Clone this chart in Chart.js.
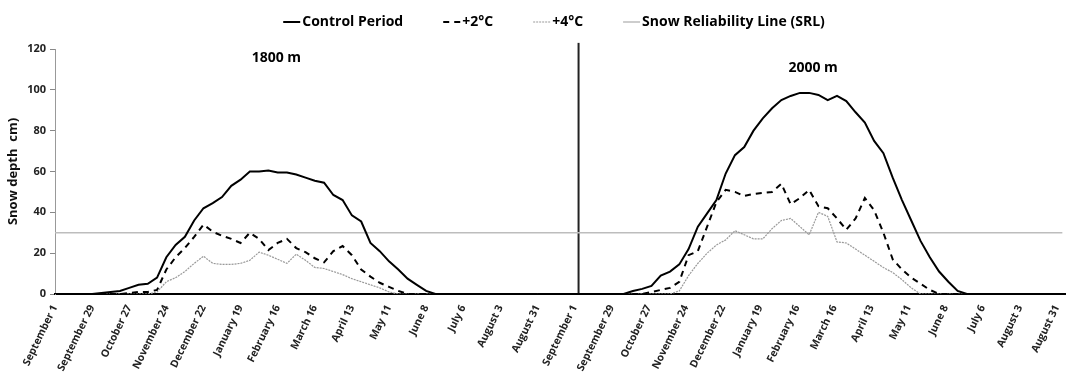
<!doctype html>
<html lang="en">
<head>
<meta charset="utf-8">
<title>Snow depth - control vs warming</title>
<script src="https://cdn.jsdelivr.net/npm/chart.js@4.4.0/dist/chart.umd.min.js"></script>
<style>
  html, body { margin: 0; padding: 0; background: #fff; overflow: hidden; }
  #wrap { position: relative; width: 1070px; height: 376px; }
</style>
</head>
<body>
<div id="wrap"><canvas id="snowChart"></canvas></div>
<script>
// x ticks every 28 days, one season per panel
const seasonTicks = ['September 1', 'September 29', 'October 27', 'November 24', 'December 22',
  'January 19', 'February 16', 'March 16', 'April 13', 'May 11', 'June 8', 'July 6',
  'August 3', 'August 31'];
const tickLabels = seasonTicks.concat(seasonTicks);

// sample days (days after September 1), weekly
const weekDays = [0, 7, 14, 21, 28, 35, 42, 49, 56, 63, 70, 77, 84, 91, 98, 105, 112, 119, 126,
  133, 140, 147, 154, 161, 168, 175, 182, 189, 196, 203, 210, 217, 224, 231, 238, 245, 252,
  259, 266, 273, 280, 287, 294, 301, 308, 315, 322, 329, 336, 343, 350, 357, 364];

// 1800 m, snow depth (cm)
const ctl1800 = [0, 0, 0, 0, 0, 0.5, 1, 1.5, 3, 4.5, 5, 8, 18, 24, 28, 36, 42, 44.5, 47.5, 53, 56,
  60, 60, 60.5, 59.5, 59.5, 58.5, 57, 55.5, 54.5, 48.5, 46, 38.5, 35.5, 25, 21, 16, 12, 7.5, 4.5,
  1.5, 0, 0, 0, 0, 0, 0, 0, 0, 0, 0, 0, 0];
const plus2_1800 = [0, 0, 0, 0, 0, 0, 0, 0, 0.5, 1, 1, 2, 12, 18, 22.5, 28, 34, 30.5, 28.5, 27, 25,
  30, 27, 21.5, 25, 27, 22.5, 20.5, 17.5, 15.5, 21, 23.5, 19, 12, 8.5, 5.5, 3.5, 1.5, 0, 0, 0, 0,
  0, 0, 0, 0, 0, 0, 0, 0, 0, 0, 0];
const plus4_1800 = [0, 0, 0, 0, 0, 0, 0, 0, 0, 0, 0, 1, 6, 8, 11, 15, 18.5, 15, 14.5, 14.5, 15,
  16.5, 20.5, 19, 17, 15, 19.5, 16.5, 13, 12.5, 11, 9.5, 7.5, 6, 4.5, 3, 1, 0, 0, 0, 0, 0, 0, 0,
  0, 0, 0, 0, 0, 0, 0, 0, 0];

// 2000 m, snow depth (cm)
const ctl2000 = [0, 0, 0, 0, 0, 0, 1.5, 2.5, 4, 9, 11, 14.5, 22, 33, 39.5, 46, 59, 68, 72, 80, 86,
  91, 95, 97, 98.5, 98.5, 97.5, 95, 97, 94.5, 89, 84, 75, 69, 57, 46, 36, 26, 18, 11, 6, 1.5, 0,
  0, 0, 0, 0, 0, 0, 0, 0, 0, 0];
const plus2_2000 = [0, 0, 0, 0, 0, 0, 0, 0, 1, 2, 3, 6, 19, 21, 33, 45, 51, 50, 48, 49, 49.5, 50,
  54, 44, 47, 51, 43, 42, 37, 31.5, 37, 47, 41, 30, 17, 12, 8, 5, 2, 0, 0, 0, 0, 0, 0, 0, 0, 0, 0,
  0, 0, 0, 0];
const plus4_2000 = [0, 0, 0, 0, 0, 0, 0, 0, 0, 0, 0, 1.5, 9, 15, 20, 24, 26.5, 31, 29, 27, 27, 32,
  36, 37, 33, 29, 40, 38, 25.5, 25, 22, 19, 16, 13, 10.5, 7, 3, 0, 0, 0, 0, 0, 0, 0, 0, 0, 0, 0,
  0, 0, 0, 0, 0];

const srlDepth = 30;
const panel2Start = 394;   // second season starts here on the shared day axis
const dividerDay = 395;
const axisEnd = 762;

const panelTitles = [
  { text: '1800 m', day: 167, depth: 115.5 },
  { text: '2000 m', day: panel2Start + 178, depth: 110.5 }
];

function bothPanels(vals1800, vals2000) {
  const a = weekDays.map((d, i) => ({ x: d, y: vals1800[i] }));
  const b = weekDays.map((d, i) => ({ x: d + panel2Start, y: vals2000[i] }));
  return a.concat([{ x: (364 + panel2Start) / 2, y: null }], b);
}

Chart.defaults.font.family = "'Open Sans', sans-serif";
Chart.defaults.color = '#222';

// legend row drawn by hand so the spacing matches
const keyRow = {
  id: 'keyRow',
  afterDraw(chart) {
    const ctx = chart.ctx;
    const items = chart.data.datasets.filter(ds => ds.label);
    ctx.save();
    ctx.font = "bold 14px 'Open Sans'";
    const mark = 17, gapText = 2, gapItem = 40;
    const widths = items.map(ds => mark + gapText + ctx.measureText(ds.label).width);
    const total = widths.reduce((a, b) => a + b, 0) + gapItem * (items.length - 1);
    let x = 554 - total / 2;
    const y = 22;
    items.forEach((ds, i) => {
      ctx.beginPath();
      ctx.strokeStyle = ds.borderColor;
      ctx.lineWidth = ds.borderWidth;
      ctx.setLineDash(ds.borderDash || []);
      ctx.moveTo(x, y);
      ctx.lineTo(x + mark, y);
      ctx.stroke();
      ctx.setLineDash([]);
      ctx.fillStyle = '#000';
      ctx.textBaseline = 'middle';
      ctx.fillText(ds.label, x + mark + gapText, y);
      x += widths[i] + gapItem;
    });
    ctx.restore();
  }
};

const panelLabels = {
  id: 'panelLabels',
  afterDatasetsDraw(chart) {
    const { ctx, scales: { x, y } } = chart;
    ctx.save();
    ctx.font = "bold 14px 'Open Sans'";
    ctx.fillStyle = '#000';
    ctx.textAlign = 'center';
    ctx.textBaseline = 'middle';
    panelTitles.forEach(p => ctx.fillText(p.text, x.getPixelForValue(p.day), y.getPixelForValue(p.depth)));
    ctx.restore();
  }
};

const CHART = document.getElementById('snowChart');
new Chart(CHART, {
  type: 'line',
  data: {
    datasets: [
      { label: 'Control Period', data: bothPanels(ctl1800, ctl2000),
        borderColor: '#000', borderWidth: 2 },
      { label: '+2°C', data: bothPanels(plus2_1800, plus2_2000),
        borderColor: '#000', borderWidth: 2, borderDash: [6, 5] },
      { label: '+4°C', data: bothPanels(plus4_1800, plus4_2000),
        borderColor: '#999', borderWidth: 1.2, borderDash: [2, 1] },
      { label: 'Snow Reliability Line (SRL)', data: [{ x: 0, y: srlDepth }, { x: axisEnd - 2, y: srlDepth }],
        borderColor: '#bdbdbd', borderWidth: 1.5 },
      { label: '', data: [{ x: dividerDay, y: 0 }, { x: dividerDay, y: 123 }],
        borderColor: '#222', borderWidth: 2, clip: false }
    ]
  },
  options: {
    responsive: true,
    maintainAspectRatio: false,
    animation: false,
    elements: { point: { radius: 0 }, line: { tension: 0, fill: false } },
    layout: { padding: { top: 49, right: 5, bottom: 0, left: 0 } },
    plugins: { legend: { display: false }, tooltip: { enabled: false } },
    scales: {
      x: {
        type: 'linear',
        min: 0,
        max: axisEnd,
        z: 1,
        afterBuildTicks: s => { s.ticks = tickLabels.map((_, i) => ({ value: i * 28 })); },
        afterFit: s => { s.height = 82; },
        grid: { display: false },
        border: { color: '#000', width: 2 },
        ticks: {
          autoSkip: false,
          minRotation: 64,
          maxRotation: 64,
          padding: 1,
          font: { size: 10.5, weight: 'bold' },
          color: '#222',
          callback: v => tickLabels[Math.round(v / 28)]
        }
      },
      y: {
        min: 0,
        max: 120,
        afterFit: s => { s.width = 55; },
        grid: { drawOnChartArea: false, tickLength: 5, color: '#888' },
        border: { color: '#999', width: 1 },
        ticks: { stepSize: 20, padding: 4, font: { size: 11, weight: 'bold' }, color: '#222' },
        title: { display: true, text: 'Snow depth  cm)', font: { size: 13, weight: 'bold' }, color: '#111', padding: 5 }
      }
    }
  },
  plugins: [keyRow, panelLabels]
});
</script>
</body>
</html>
